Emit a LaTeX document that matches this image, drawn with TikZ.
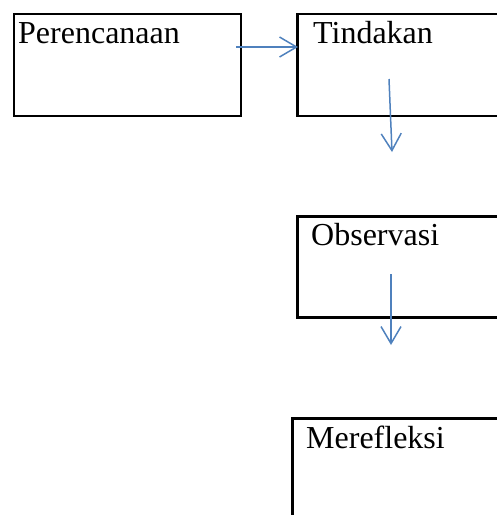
\documentclass[tikz,border=0pt]{standalone}
\usepackage{fontspec}
\setmainfont{Liberation Serif}
\usetikzlibrary{arrows.meta}
\definecolor{arrowblue}{RGB}{79,129,189}
\begin{document}
\begin{tikzpicture}[x=1pt,y=-1pt,
  box/.style={draw=black,line width=2.5pt,inner sep=0pt,anchor=north west},
  lbl/.style={anchor=base west,inner sep=0pt,font=\fontsize{32}{38}\selectfont},
  arr/.style={draw=arrowblue,line width=1.5pt,-{Straight Barb[length=17pt,width=20pt]}}]
\useasboundingbox (0,0) rectangle (497,515);
\clip (0,0) rectangle (497,515);
\node[box,minimum width=227pt,minimum height=102pt] (b1) at (12.5,12.5) {};
\node[box,minimum width=220pt,minimum height=102pt] (b2) at (296,12.5) {};
\node[box,minimum width=220pt,minimum height=101pt] (b3) at (296,215) {};
\node[box,minimum width=225pt,minimum height=120pt] (b4) at (291,417) {};
\node[lbl] (t1) at (18,43) {Perencanaan};
\node[lbl] (t2) at (313,43) {Tindakan};
\node[lbl] (t3) at (311,245) {Observasi};
\node[lbl] (t4) at (306,448) {Merefleksi};
\coordinate (a1s) at (236,47);
\coordinate (a1e) at (298,47);
\coordinate (a2s) at (389,79);
\coordinate (a2e) at (392,152);
\coordinate (a3s) at (391,274);
\coordinate (a3e) at (391,345);
\draw[arr] (a1s) -- (a1e);
\draw[arr] (a2s) -- (a2e);
\draw[arr] (a3s) -- (a3e);
\end{tikzpicture}
\end{document}
